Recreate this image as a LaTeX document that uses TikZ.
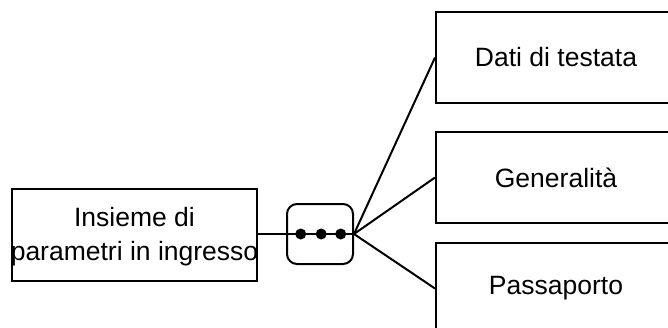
\documentclass[tikz,border=0pt]{standalone}
\usepackage{fontspec}
\setmainfont{Liberation Sans}
\begin{document}
\begin{tikzpicture}[x=1pt,y=-1pt,
  every node/.style={font=\fontsize{26.5}{34}\selectfont},
  boxnode/.style={draw=black,line width=2pt,minimum width=#1,minimum height=91pt,inner sep=0pt},
  roundnode/.style={draw=black,line width=2pt,rounded corners=10pt,minimum width=66pt,minimum height=60pt,inner sep=0pt},
  dotnode/.style={circle,fill=black,minimum size=11pt,inner sep=0pt},
  link/.style={draw=black,line width=2pt}]
\useasboundingbox (0,0) rectangle (668,327);
\clip (0,0) rectangle (668,327);
% left box
\node[boxnode=245pt,minimum height=92pt] (in) at (134.5,235) {};
\node[align=center,inner sep=0pt] (intext) at (134.5,237) {Insieme di\\parametri in ingresso};
% rounded connector box
\node[roundnode] (dots) at (320,234) {};
% right boxes
\node[boxnode=250pt,anchor=west] (dati) at (435,57.5) {\hspace*{-10pt}Dati di testata};
\node[boxnode=250pt,anchor=west] (gen) at (435,177.5) {\hspace*{-10pt}Generalit\`a};
\node[boxnode=250pt,anchor=west] (pass) at (435,288.5) {\hspace*{-10pt}Passaporto};
% connectors
\draw[link] (in.east |- dots.east) -- (dots.east);
\draw[link] (dots.east) -- (dati.west);
\draw[link] (dots.east) -- (gen.west);
\draw[link] (dots.east) -- (pass.west);
% dots
\node[dotnode] (d1) at (300.7,234) {};
\node[dotnode] (d2) at (321.2,234) {};
\node[dotnode] (d3) at (340.7,234) {};
\end{tikzpicture}
\end{document}
